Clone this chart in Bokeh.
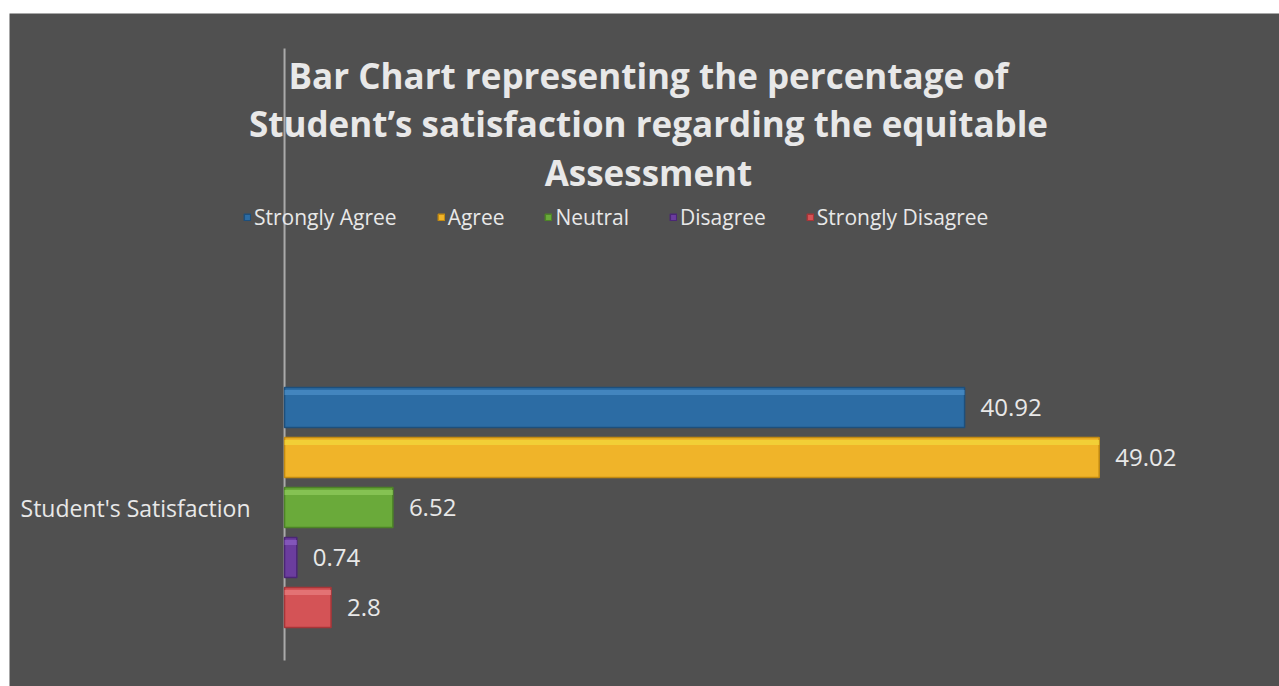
from bokeh.plotting import figure
from bokeh.models import ColumnDataSource, Range1d, Label, Spacer
from bokeh.layouts import column, row
from bokeh.embed import file_html
from bokeh.resources import INLINE
from bokeh.core.properties import value

# ---- data ----
category = "Student's Satisfaction"
series = ["Strongly Agree", "Agree", "Neutral", "Disagree", "Strongly Disagree"]
values = [40.92, 49.02, 6.52, 0.74, 2.8]
colors = ["#2c6ca4", "#f0b429", "#6aaa3a", "#6b3d9e", "#d45356"]
edge_colors = ["#1d4f7c", "#c28a12", "#4d8427", "#4b2676", "#a83538"]
highlight = ["#4a8cc4", "#f2d63a", "#8cc85a", "#8a5cc0", "#e67a7c"]
title_lines = ["Bar Chart representing the percentage of",
               "Student\u2019s satisfaction regarding the equitable",
               "Assessment"]

BG = "#505050"
TXT = "#e8e8e8"
FONT = "Open Sans"

n = len(series)
ypos = [n - i for i in range(n)]          # top bar first
center = (n + 1) / 2
labels = [f"{v:g}" for v in values]

src = ColumnDataSource(dict(y=ypos, yh=[y + 0.3 for y in ypos], v=values,
                            lab=labels, name=series, color=colors,
                            edge=edge_colors, hl=highlight))

W, H = 1270, 673
p = figure(width=W, height=H, output_backend="svg", toolbar_location=None,
           x_axis_location=None, y_axis_location=None,
           x_range=Range1d(-16.55, 59.87), y_range=Range1d(-0.58, 12.88),
           min_border_left=0, min_border_right=0, min_border_top=0,
           min_border_bottom=0)
p.background_fill_color = BG
p.border_fill_color = BG
p.outline_line_color = None
p.grid.visible = False

# vertical category-axis rule at x = 0
p.segment(x0=[0], y0=[-0.06], x1=[0], y1=[12.18], line_color="#aaaaaa",
          line_width=2)

p.hbar(y="y", left=0, right="v", height=0.8, source=src,
       fill_color="color", line_color="edge", line_width=1.5,
       legend_field="name")
# bevel highlight along the top edge of each bar
p.hbar(y="yh", left=0, right="v", height=0.1, source=src,
       fill_color="hl", line_color=None, fill_alpha=0.8)

p.text(x="v", y="y", text="lab", source=src, x_offset=16,
       text_baseline="middle", text_align="left",
       text_font=value(FONT), text_font_size="24px", text_color=TXT)

p.add_layout(Label(x=0, y=center, x_offset=-34, text=category,
                   text_align="right", text_baseline="middle",
                   text_font=FONT, text_font_size="23px", text_color=TXT))

# title lines (positions in data units of this frame)
title_y = [11.64, 10.68, 9.70]
for t, ty in zip(title_lines, title_y):
    p.add_layout(Label(x=21.9, y=ty, text=t, text_align="center",
                       text_baseline="alphabetic", text_font=FONT,
                       text_font_style="bold", text_font_size="35px",
                       text_color=TXT))

leg = p.legend[0]
leg.orientation = "horizontal"
leg.location = (234, 455)
leg.background_fill_alpha = 0
leg.border_line_color = None
leg.padding = 0
leg.margin = 0
leg.spacing = 40
leg.glyph_width = 8
leg.glyph_height = 8
leg.label_standoff = 3
leg.label_text_font = FONT
leg.label_text_font_size = "21px"
leg.label_text_color = TXT

layout = column(Spacer(width=1279, height=13),
                row(Spacer(width=9, height=H), p))
open("out.html", "w").write(file_html(layout, INLINE))
